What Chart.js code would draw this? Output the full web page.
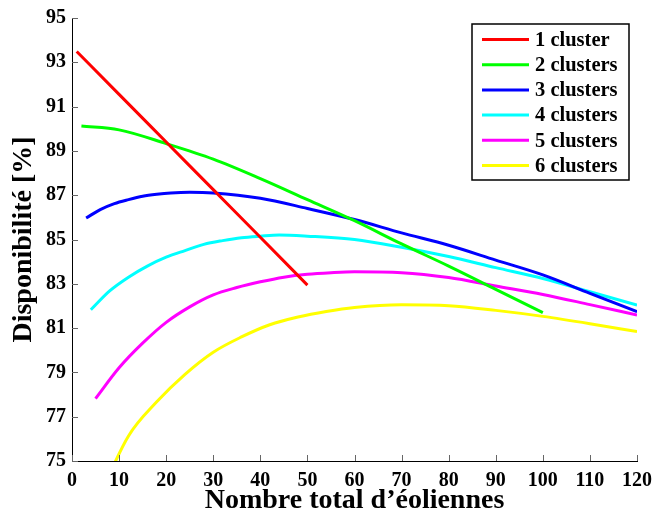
<!DOCTYPE html>
<html>
<head>
<meta charset="utf-8">
<script src="https://cdn.jsdelivr.net/npm/chart.js@4/dist/chart.umd.min.js"></script>
<style>
html, body { margin: 0; padding: 0; background: #fff; }
#wrap { width: 653px; height: 515px; position: relative; }
</style>
</head>
<body>
<div id="wrap"><canvas id="dispoChart"></canvas></div>
<script>
// series names and colours (MATLAB default rgbcmy)
const seriesLabels = ["1 cluster", "2 clusters", "3 clusters", "4 clusters", "5 clusters", "6 clusters"];
const seriesColors = ["#ff0000", "#00ff00", "#0000ff", "#00ffff", "#ff00ff", "#ffff00"];

// axis ticks
const xTicks = [0, 10, 20, 30, 40, 50, 60, 70, 80, 90, 100, 110, 120];
const yTicks = [75, 77, 79, 81, 83, 85, 87, 89, 91, 93, 95];

// values
const x1 = [1, 10, 20, 30, 40, 50];
const y1 = [93.49, 91.55, 89.4, 87.25, 85.1, 82.94];

const x2 = [2, 10, 20, 30, 40, 50, 60, 70, 80, 90, 100];
const y2 = [90.12, 89.95, 89.33, 88.63, 87.75, 86.8, 85.85, 84.8, 83.8, 82.75, 81.7];

const x3 = [3, 6, 9, 12, 15, 18, 21, 25, 30, 40, 50, 60, 70, 80, 90, 100, 110, 120];
const y3 = [85.97, 86.35, 86.62, 86.8, 86.95, 87.04, 87.1, 87.13, 87.1, 86.86, 86.4, 85.9, 85.3, 84.74, 84.07, 83.4, 82.57, 81.74];

const x4 = [4, 8, 12, 16, 20, 24, 28, 32, 36, 40, 44, 50, 60, 70, 80, 90, 100, 110, 120];
const y4 = [81.83, 82.68, 83.3, 83.8, 84.2, 84.5, 84.78, 84.95, 85.08, 85.15, 85.2, 85.15, 85.0, 84.65, 84.23, 83.73, 83.24, 82.64, 82.04];

const x5 = [5, 10, 15, 20, 25, 30, 35, 40, 45, 50, 55, 60, 70, 80, 90, 100, 110, 120];
const y5 = [77.82, 79.21, 80.32, 81.26, 81.96, 82.5, 82.83, 83.09, 83.3, 83.43, 83.5, 83.54, 83.5, 83.28, 82.9, 82.52, 82.06, 81.59];

const x6 = [6, 12, 18, 24, 30, 36, 42, 48, 54, 60, 70, 80, 90, 100, 110, 120];
const y6 = [73.5, 76.13, 77.67, 78.91, 79.91, 80.6, 81.15, 81.5, 81.75, 81.93, 82.05, 82.01, 81.8, 81.53, 81.2, 80.84];

const xs = [x1, x2, x3, x4, x5, x6];
const ys = [y1, y2, y3, y4, y5, y6];

const FONT = "'Liberation Serif', 'Times New Roman', serif";

const datasets = seriesLabels.map((lab, i) => ({
    label: lab,
    data: xs[i].map((x, j) => ({ x: x, y: ys[i][j] })),
    borderColor: seriesColors[i],
    backgroundColor: seriesColors[i],
    borderWidth: 3,
    pointRadius: 0,
    fill: false,
    cubicInterpolationMode: 'monotone'
}));

// ticks pointing into the plot, MATLAB style
const innerTicks = {
    id: 'innerTicks',
    afterDatasetsDraw(chart) {
        const { ctx, chartArea: a, scales: { x, y } } = chart;
        ctx.save();
        ctx.strokeStyle = '#666';
        ctx.lineWidth = 1;
        ctx.beginPath();
        xTicks.forEach(v => {
            const px = Math.round(x.getPixelForValue(v)) + 0.5;
            ctx.moveTo(px, a.bottom);
            ctx.lineTo(px, a.bottom - 6);
        });
        yTicks.forEach(v => {
            const py = Math.round(y.getPixelForValue(v)) + 0.5;
            ctx.moveTo(a.left, py);
            ctx.lineTo(a.left + 6, py);
        });
        ctx.stroke();
        ctx.restore();
    }
};

// boxed legend inside the axes, top right
const boxLegend = {
    id: 'boxLegend',
    afterDraw(chart) {
        const ctx = chart.ctx;
        const left = 472, top = 24, w = 157, h = 156;
        ctx.save();
        ctx.fillStyle = '#fff';
        ctx.fillRect(left, top, w, h);
        ctx.strokeStyle = '#000';
        ctx.lineWidth = 1.5;
        ctx.strokeRect(left, top, w, h);
        ctx.font = 'bold 20.5px ' + FONT;
        ctx.textBaseline = 'middle';
        ctx.fillStyle = '#000';
        chart.data.datasets.forEach((ds, i) => {
            const yy = top + 15.5 + i * 25.2;
            ctx.strokeStyle = ds.borderColor;
            ctx.lineWidth = 3;
            ctx.beginPath();
            ctx.moveTo(482, yy);
            ctx.lineTo(529, yy);
            ctx.stroke();
            ctx.fillText(ds.label, 535, yy + 1);
        });
        ctx.restore();
    }
};

new Chart(document.getElementById('dispoChart'), {
    type: 'line',
    data: { datasets: datasets },
    options: {
        responsive: true,
        maintainAspectRatio: false,
        animation: false,
        layout: { padding: { left: 0, right: 0, top: 6, bottom: 0 } },
        plugins: {
            legend: { display: false },
            tooltip: { enabled: false }
        },
        scales: {
            x: {
                type: 'linear',
                min: 0,
                max: 120,
                afterBuildTicks: s => { s.ticks = xTicks.map(v => ({ value: v })); },
                afterFit: s => { s.height = 54; s.paddingRight = 16; s.paddingLeft = 0; },
                grid: { drawOnChartArea: false, drawTicks: false },
                border: { display: true, color: '#000', width: 1 },
                ticks: {
                    padding: 8,
                    color: '#000',
                    maxRotation: 0,
                    font: { family: FONT, size: 20, weight: 'bold' }
                },
                title: {
                    display: true,
                    text: 'Nombre total d\u2019éoliennes',
                    color: '#000',
                    padding: { top: 0, bottom: 0 },
                    font: { family: FONT, size: 28, weight: 'bold', lineHeight: 1 }
                }
            },
            y: {
                type: 'linear',
                min: 75,
                max: 95,
                afterBuildTicks: s => { s.ticks = yTicks.map(v => ({ value: v })); },
                afterFit: s => { s.width = 72; },
                grid: { drawOnChartArea: false, drawTicks: false },
                border: { display: true, color: '#000', width: 1 },
                ticks: {
                    padding: 6,
                    color: '#000',
                    font: { family: FONT, size: 20, weight: 'bold' }
                },
                title: {
                    display: true,
                    text: 'Disponibilité [%]',
                    color: '#000',
                    padding: { top: 10, bottom: 0 },
                    font: { family: FONT, size: 28, weight: 'bold', lineHeight: 1 }
                }
            }
        }
    },
    plugins: [innerTicks, boxLegend]
});
</script>
</body>
</html>
